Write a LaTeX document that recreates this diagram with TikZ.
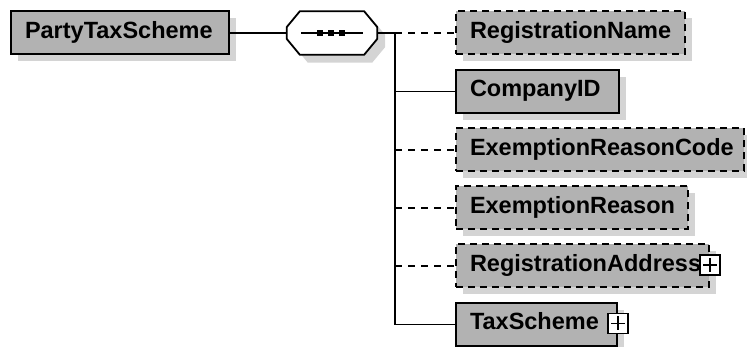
\documentclass[tikz,border=0pt]{standalone}
\usepackage{fontspec}
\setmainfont{Liberation Sans}
\usepackage{xcolor}
\usepackage{tikz}
\usetikzlibrary{calc, positioning, shadows}

\definecolor{boxgray}{RGB}{178,178,178}
\definecolor{shadowgray}{RGB}{212,212,212}

\tikzset{
    elem/.style={draw, fill=boxgray, line width=2pt, anchor=west, align=left,
        inner xsep=14pt, inner ysep=0pt, minimum height=43pt,
        text height=16pt, text depth=5pt,
        font=\bfseries\fontsize{23.5}{23.5}\selectfont,
        drop shadow={shadow xshift=7pt, shadow yshift=-7pt, fill=shadowgray, opacity=1}},
    optelem/.style={elem, dash pattern=on 7pt off 5pt},
    plusbox/.style={draw, fill=white, line width=1.6pt, minimum size=20pt, inner sep=0pt,
        path picture={
            \draw[line width=1.6pt] ([yshift=7pt]path picture bounding box.center)
                -- ([yshift=-7pt]path picture bounding box.center);
            \draw[line width=1.6pt] ([xshift=-7pt]path picture bounding box.center)
                -- ([xshift=7pt]path picture bounding box.center);}},
    conn/.style={line width=1.8pt},
    optconn/.style={conn, dash pattern=on 7pt off 6pt}
}

\begin{document}
\begin{tikzpicture}[>=latex, x=1pt, y=-1pt]
    \useasboundingbox (0,0) rectangle (747,347);

    % Phần tử gốc và khối tuần tự
    \node[elem, text width=190pt] (root) at (10,33) {PartyTaxScheme};
    \node[minimum width=90pt, minimum height=43pt, inner sep=0pt] (seq) at (332,33) {};
    \fill[shadowgray, transform canvas={shift={(8pt,-8pt)}}]
        ($(seq.north west)+(13,0)$) -- ($(seq.north east)+(-13,0)$)
        -- ($(seq.east)+(0,-6)$) -- ($(seq.east)+(0,6)$)
        -- ($(seq.south east)+(-13,0)$) -- ($(seq.south west)+(13,0)$)
        -- ($(seq.west)+(0,6)$) -- ($(seq.west)+(0,-6)$) -- cycle;
    \draw[conn, fill=white]
        ($(seq.north west)+(13,0)$) -- ($(seq.north east)+(-13,0)$)
        -- ($(seq.east)+(0,-6)$) -- ($(seq.east)+(0,6)$)
        -- ($(seq.south east)+(-13,0)$) -- ($(seq.south west)+(13,0)$)
        -- ($(seq.west)+(0,6)$) -- ($(seq.west)+(0,-6)$) -- cycle;
    \draw[conn] ([xshift=-31pt]seq.center) -- ([xshift=31pt]seq.center);
    \foreach \x in {-12,-1,10} {
        \fill ([xshift=\x pt]seq.center) ++(-2.8,-2.8) rectangle ++(5.6,5.6);
    }
    \coordinate (bus) at (395,33);

    % Các phần tử con
    \node[optelem, text width=201pt] (regname)    at (455,33)    {RegistrationName};
    \node[elem,    text width=135pt] (compid)     at (455,91.5)  {CompanyID};
    \node[optelem, text width=260pt] (exreascode) at (455,150)   {ExemptionReasonCode};
    \node[optelem, text width=204pt] (exreason)   at (455,208)   {ExemptionReason};
    \node[optelem, text width=225pt] (regaddr)    at (455,266)   {RegistrationAddress};
    \node[elem,    text width=133pt] (taxsch)     at (455,324.5) {TaxScheme};

    % Dấu mở rộng
    \node[plusbox] (regaddrplus) at ([yshift=1pt]regaddr.east) {};
    \node[plusbox] (taxschplus)  at ([yshift=1pt]taxsch.east) {};

    % Đường nối
    \draw[conn] (root.east) -- (seq.west);
    \draw[conn] (seq.east) -- (bus);
    \draw[conn] (bus) |- (taxsch.west);
    \draw[conn] (bus |- compid.west) -- (compid.west);
    \foreach \n in {regname, exreascode, exreason, regaddr} {
        \draw[optconn] (bus |- \n.west) -- (\n.west);
    }
\end{tikzpicture}
\end{document}
